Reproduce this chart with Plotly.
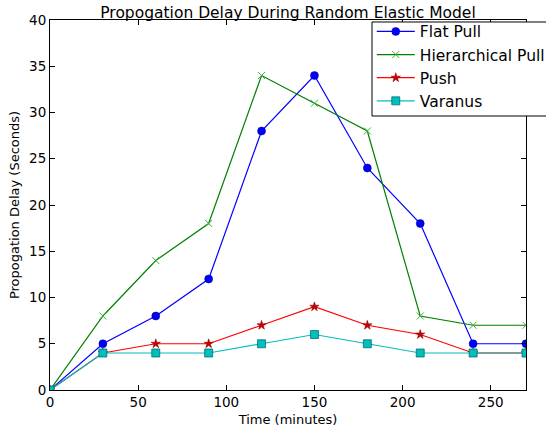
import plotly.graph_objects as go

time_min = [0, 30, 60, 90, 120, 150, 180, 210, 240, 270]
flat_pull = [0, 5, 8, 12, 28, 34, 24, 18, 5, 5]
hier_pull = [0, 8, 14, 18, 34, 31, 28, 8, 7, 7]
push = [0, 4, 5, 5, 7, 9, 7, 6, 4, 4]
varanus = [0, 4, 4, 4, 5, 6, 5, 4, 4, 4]

fig = go.Figure()
fig.add_trace(go.Scatter(x=time_min, y=flat_pull, name="Flat Pull", mode="lines+markers",
                         line=dict(color="#0000FF", width=1.2),
                         marker=dict(symbol="circle", size=8, color="#0000FF",
                                     line=dict(color="#000080", width=0.5))))
fig.add_trace(go.Scatter(x=time_min, y=hier_pull, name="Hierarchical Pull", mode="lines+markers",
                         line=dict(color="#008000", width=1.2),
                         marker=dict(symbol="x-thin", size=7, color="#008000",
                                     line=dict(color="#3cb03c", width=1))))
fig.add_trace(go.Scatter(x=time_min, y=push, name="Push", mode="lines+markers",
                         line=dict(color="#FF0000", width=1.2),
                         marker=dict(symbol="star", size=7, color="#CC0000",
                                     line=dict(color="#800000", width=0.5))))
fig.add_trace(go.Scatter(x=time_min, y=varanus, name="Varanus", mode="lines+markers",
                         line=dict(color="#00BFBF", width=1.2),
                         marker=dict(symbol="square", size=8, color="#00BFBF",
                                     line=dict(color="#005f5f", width=0.7))))

axis_common = dict(showline=True, linecolor="black", linewidth=1, mirror="allticks",
                   ticks="inside", ticklen=5, tickcolor="black", showgrid=False,
                   zeroline=False, tickfont=dict(family="DejaVu Sans", size=13.5, color="black"))

fig.update_layout(
    width=546, height=432,
    margin=dict(l=50, r=20, t=20, b=42, autoexpand=False),
    paper_bgcolor="white", plot_bgcolor="white",
    font=dict(family="DejaVu Sans", color="black"),
    title=dict(text="Propogation Delay During Random Elastic Model", x=0.5, xref="paper",
               xanchor="center", y=0.9705, yref="container", yanchor="middle", pad=dict(t=0),
               font=dict(size=15.5, family="DejaVu Sans", color="black")),
    xaxis=dict(range=[0, 270], tickvals=[0, 50, 100, 150, 200, 250],
               title=dict(text="Time (minutes)", font=dict(size=13), standoff=5), **axis_common),
    yaxis=dict(range=[0, 40], tickvals=[0, 5, 10, 15, 20, 25, 30, 35, 40],
               title=dict(text="Propogation Delay (Seconds)", font=dict(size=13), standoff=6), **axis_common),
    legend=dict(x=0.676, y=1.014, xanchor="left", yanchor="top", bgcolor="rgba(0,0,0,0)",
                borderwidth=0, font=dict(size=15.5, family="DejaVu Sans"),
                tracegroupgap=0, itemwidth=38),
    shapes=[dict(type="rect", xref="paper", yref="paper", x0=0.6765, x1=1.12, y0=0.7405, y1=0.9946,
                 line=dict(color="black", width=1), fillcolor="white", layer="above")],
    showlegend=True,
)

fig.write_html("out.html")
